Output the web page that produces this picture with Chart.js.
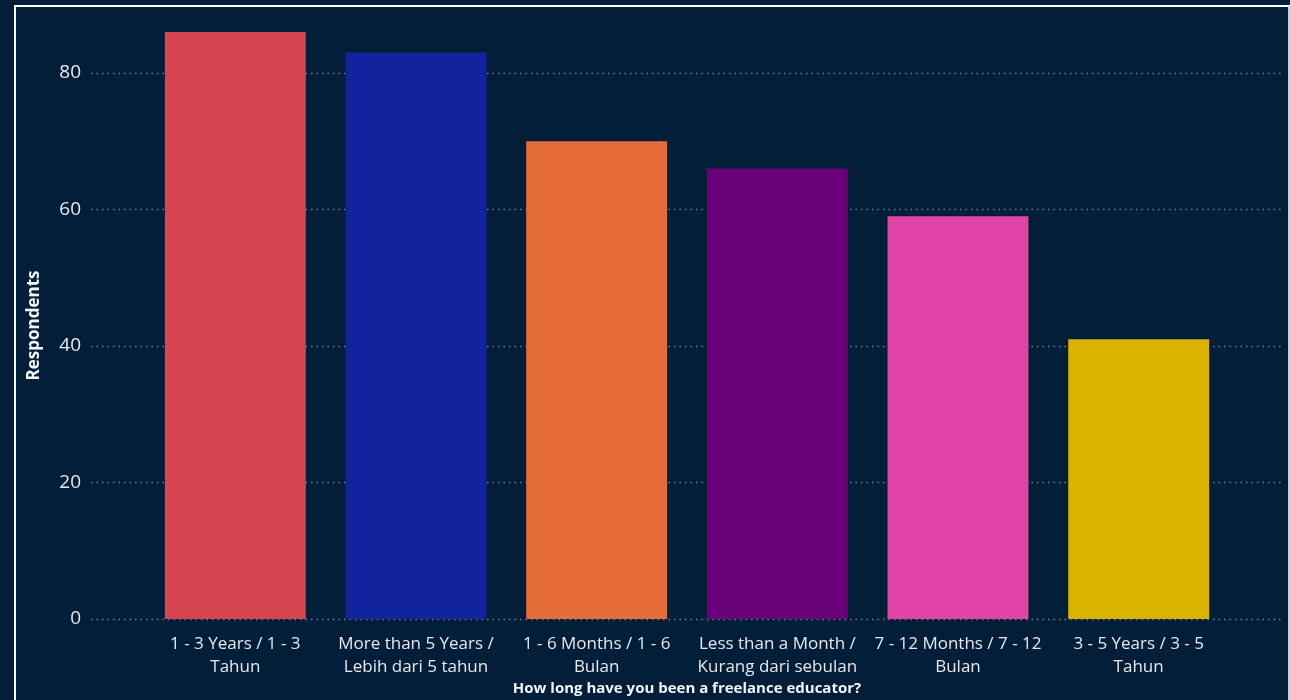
<!DOCTYPE html>
<html>
<head>
<meta charset="utf-8">
<script src="https://cdn.jsdelivr.net/npm/chart.js@4"></script>
<style>
    html, body { margin: 0; padding: 0; background: #021e39; overflow: hidden; }
    #wrap { position: absolute; left: 0; top: 0; width: 1290px; height: 700px; }
    #frame { position: absolute; left: 14px; top: 5px; width: 1272px; height: 720px; border: 2px solid #ffffff; border-right-color: #c9d2dc; pointer-events: none; }
</style>
</head>
<body>
<div id="wrap"><canvas id="chart" width="1290" height="700"></canvas></div>
<div id="frame"></div>
<script>
// Dane
const categories = [
    ['1 - 3 Years / 1 - 3', 'Tahun'],
    ['More than 5 Years /', 'Lebih dari 5 tahun'],
    ['1 - 6 Months / 1 - 6', 'Bulan'],
    ['Less than a Month /', 'Kurang dari sebulan'],
    ['7 - 12 Months / 7 - 12', 'Bulan'],
    ['3 - 5 Years / 3 - 5', 'Tahun']
];
const respondents = [86, 83, 70, 66, 59, 41];
const barColors = ['#D64550', '#12239E', '#E66C37', '#6B007B', '#E044A7', '#D9B300'];
const yTicks = [0, 20, 40, 60, 80];

const FONT = '"Open Sans", "Noto Sans", sans-serif';

// kropkowane linie siatki, szersze niż obszar wykresu
const dottedGrid = {
    id: 'dottedGrid',
    beforeDatasetsDraw(chart) {
        const { ctx, chartArea, scales: { y } } = chart;
        ctx.save();
        ctx.strokeStyle = 'rgba(150, 170, 190, 0.7)';
        ctx.lineWidth = 1.5;
        ctx.setLineDash([1.5, 4]);
        yTicks.forEach(v => {
            const py = Math.round(y.getPixelForValue(v)) + 0.5;
            ctx.beginPath();
            ctx.moveTo(chartArea.left - 54, py);
            ctx.lineTo(chartArea.right + 54, py);
            ctx.stroke();
        });
        ctx.restore();
    }
};

new Chart(document.getElementById('chart'), {
    type: 'bar',
    data: {
        labels: categories,
        datasets: [{
            label: 'Respondents',
            data: respondents,
            backgroundColor: barColors,
            borderWidth: 0,
            categoryPercentage: 1,
            barPercentage: 0.78
        }]
    },
    options: {
        responsive: false,
        animation: false,
        layout: { padding: { left: 24, right: 61, top: 32, bottom: 0 } },
        plugins: { legend: { display: false }, tooltip: { enabled: false } },
        scales: {
            x: {
                afterFit: s => { s.height = 81; s.paddingLeft = 0; s.paddingRight = 0; },
                grid: { display: false, drawTicks: false },
                border: { display: false },
                ticks: { color: '#e6e9ec', font: { family: FONT, size: 17, lineHeight: 1.35 }, padding: 14, maxRotation: 0, autoSkip: false },
                title: { display: true, text: 'How long have you been a freelance educator?', color: '#f2f4f6', font: { family: FONT, size: 15, weight: 'bold' }, padding: { top: 0, bottom: 2 } }
            },
            y: {
                min: 0, max: 86,
                afterBuildTicks: s => { s.ticks = yTicks.map(v => ({ value: v })); },
                afterFit: s => { s.width = 121; s.paddingTop = 0; s.paddingBottom = 0; },
                grid: { display: false, drawTicks: false },
                border: { display: false },
                ticks: { color: '#e6e9ec', font: { family: FONT, size: 19 }, padding: 64 },
                title: { display: true, text: 'Respondents', color: '#f2f4f6', font: { family: FONT, size: 17, weight: 'bold' }, padding: 0 }
            }
        }
    },
    plugins: [dottedGrid]
});
</script>
</body>
</html>
